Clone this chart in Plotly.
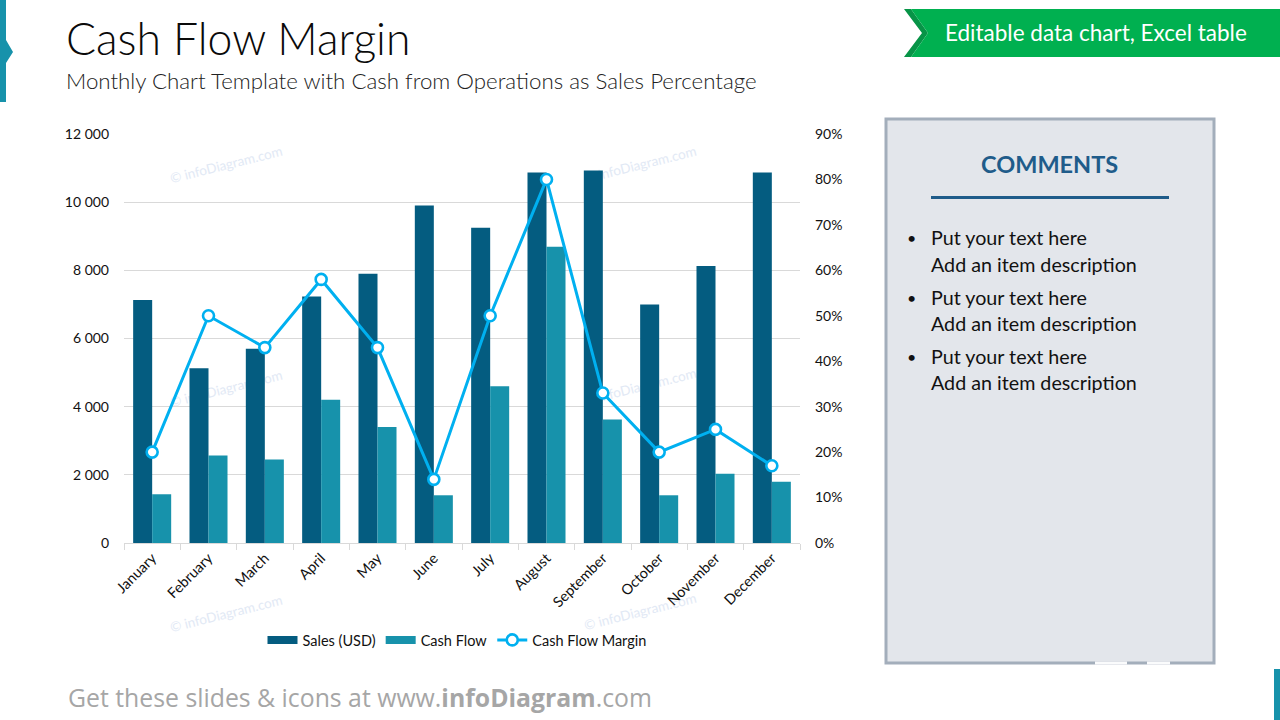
import plotly.graph_objects as go

months = ["January","February","March","April","May","June","July","August","September","October","November","December"]
sales = [7130,5130,5700,7230,7900,9900,9250,10870,10930,7000,8130,10870]
cash_flow = [1430,2570,2450,4200,3400,1400,4600,8690,3620,1400,2030,1800]
margin = [20,50,43,58,43,14,50,80,33,20,25,17]
left_ticks = [0,2000,4000,6000,8000,10000,12000]
left_labels = ["0","2 000","4 000","6 000","8 000","10 000","12 000"]
right_ticks = [0,10,20,30,40,50,60,70,80,90]
right_labels = ["0%","10%","20%","30%","40%","50%","60%","70%","80%","90%"]

W, H = 1280, 720
FONT = "Lato"
TXT = "#111111"
DARK = "#045C80"
TEAL = "#1792AB"
LINE = "#00B0F0"
px = lambda x: x / W
py = lambda y: 1 - y / H

fig = go.Figure()
fig.add_bar(x=months, y=sales, name="Sales (USD)", showlegend=False, marker=dict(color=DARK, line_width=0))
fig.add_bar(x=months, y=cash_flow, name="Cash Flow", showlegend=False, marker=dict(color=TEAL, line_width=0))
# legend keys: wide flat swatches like the reference
fig.add_scatter(x=[None], y=[None], name="Sales (USD)", mode="lines", line=dict(color=DARK, width=8))
fig.add_scatter(x=[None], y=[None], name="Cash Flow", mode="lines", line=dict(color=TEAL, width=8))
fig.add_scatter(x=months, y=margin, name="Cash Flow Margin", yaxis="y2", mode="lines+markers",
                line=dict(color=LINE, width=3),
                marker=dict(size=11, color="white", line=dict(color=LINE, width=2.6)))

def poly(pts, fill):
    d = "M " + " L ".join(f"{px(x):.5f},{py(y):.5f}" for x, y in pts) + " Z"
    return dict(type="path", xref="paper", yref="paper", path=d, fillcolor=fill, line_width=0, layer="below")

def rect(x0, y0, x1, y1, fill, line=None, lw=0):
    return dict(type="rect", xref="paper", yref="paper", x0=px(x0), x1=px(x1), y0=py(y0), y1=py(y1),
                fillcolor=fill, line=dict(color=line, width=lw) if line else dict(width=0), layer="below")

def watermark(x, y):
    s = rect(x - 60, y - 12, x + 60, y + 12, "rgba(0,0,0,0)")
    s["label"] = dict(text="© infoDiagram.com", textangle=-14, textposition="middle center",
                      font=dict(family=FONT, size=13.5, color="#E2E9F5"))
    return s

shapes = [
    poly([(0,0),(6,0),(6,40),(13,52),(6,63),(6,102),(0,102)], TEAL),
    rect(1274,669,1280,720,TEAL),
    poly([(904,9),(911,9),(928,33),(911,57),(904,57),(922,33)], "#079447"),
    poly([(911,9),(1280,9),(1280,57),(911,57),(928,33)], "#00B050"),
    rect(886,119,1214,663,"#E3E6EB","#A3AEBB",3),
    rect(1095,661.5,1127,664.5,"#FAFBFC"),
    rect(1147,661.5,1170,664.5,"#FAFBFC"),
    rect(931,196,1169,199,"#1F5C8A"),
]
for x, y in [(226,164),(640,164),(226,388),(640,386),(226,613),(640,611)]:
    shapes.append(watermark(x, y))

def text(x, y, s, size, color=TXT, anchor="left", family=FONT, **kw):
    return dict(xref="paper", yref="paper", x=px(x), y=py(y), text=s, showarrow=False, xanchor=anchor,
                yanchor="middle", font=dict(family=family, size=size, color=color), **kw)

ann = [
    text(64, 37, "Cash Flow Margin", 44.5, "#0a0a0a", family="Lato Light, Lato"),
    text(64, 80, "Monthly Chart Template with Cash from Operations as Sales Percentage", 22.3, "#222222", family="Lato Light, Lato"),
    text(943, 33, "Editable data chart, Excel table", 22.5, "white"),
    text(1049, 164, "<b>COMMENTS</b>", 23.5, "#1F5C8A", anchor="center"),
    text(66, 697, "Get these slides &amp; icons at www.<b>infoDiagram</b>.com", 24.8, "#A6A6A6", family="Open Sans"),
]
for y1, y2 in [(238,264),(297,323),(356,382)]:
    ann.append(text(905, y1, "•", 16))
    ann.append(text(929, y1, "Put your text here", 19.7))
    ann.append(text(929, y2, "Add an item description", 19.7))

fig.update_layout(
    template="none",
    width=W, height=H, margin=dict(l=0, r=0, t=0, b=0, autoexpand=False),
    paper_bgcolor="white", plot_bgcolor="white",
    font=dict(family=FONT, size=14, color=TXT),
    barmode="group", bargap=0.325, bargroupgap=0,
    xaxis=dict(domain=[px(124), px(800)], type="category", range=[-0.5, 11.5], tickangle=-45, ticks="outside",
               tickson="boundaries", ticklen=6, tickcolor="#D9D9D9", linecolor="#D9D9D9", linewidth=1, showline=True,
               showgrid=False, tickfont=dict(size=14.5), anchor="y", automargin=False),
    yaxis=dict(domain=[py(543), py(134)], range=[0,12000], tickvals=left_ticks, ticktext=left_labels,
               gridcolor="#D9D9D9", gridwidth=1, zeroline=False, ticks="", showline=False, ticklabelstandoff=14,
               tickfont=dict(size=14), automargin=False),
    yaxis2=dict(overlaying="y", side="right", range=[0,90], tickvals=right_ticks, ticktext=right_labels,
                showgrid=False, zeroline=False, ticks="", showline=False, ticklabelstandoff=14,
                tickfont=dict(size=14), automargin=False),
    legend=dict(orientation="h", x=px(457), y=py(640), xanchor="center", yanchor="middle",
                font=dict(size=14.5), itemwidth=30, traceorder="normal", bgcolor="rgba(0,0,0,0)"),
    shapes=shapes, annotations=ann, showlegend=True, hovermode=False,
)
fig.write_html("out.html", config=dict(displayModeBar=False), post_script="document.body.style.margin='0';")
